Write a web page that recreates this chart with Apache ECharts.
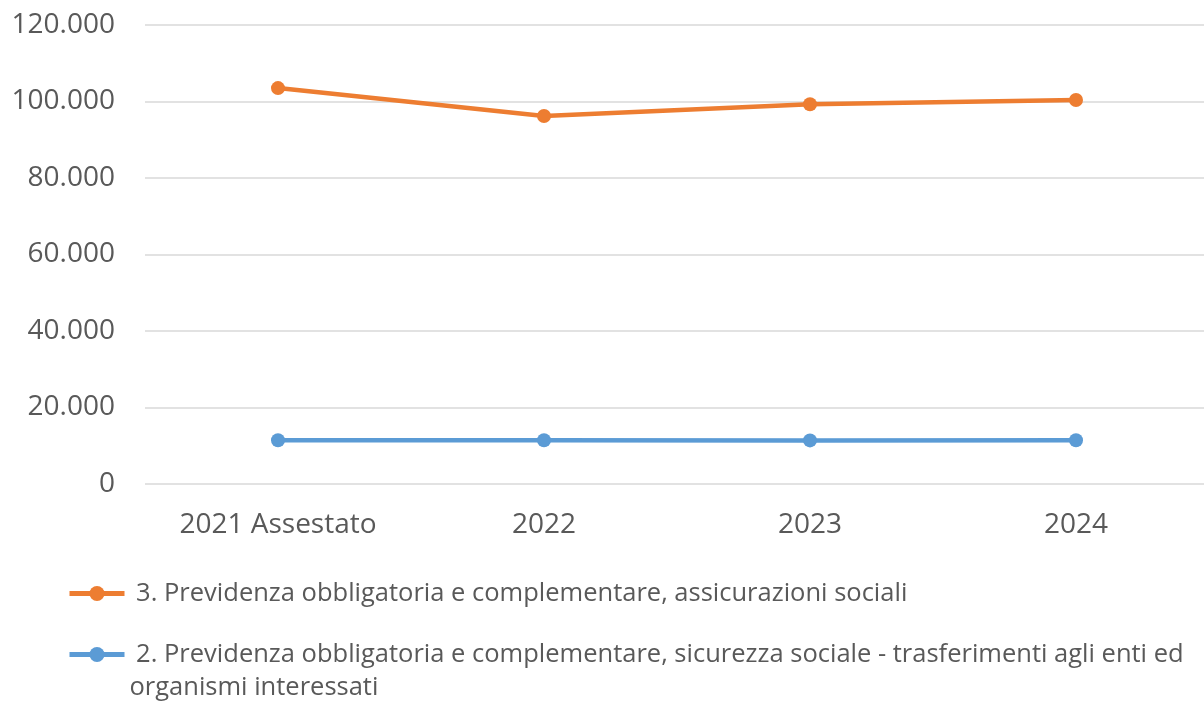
<!DOCTYPE html>
<html>
<head>
<meta charset="utf-8">
<script src="https://cdn.jsdelivr.net/npm/echarts@6/dist/echarts.min.js"></script>
<style>
  html, body { margin: 0; padding: 0; background: #fff; }
  #chart { width: 1204px; height: 701px; }
</style>
</head>
<body>
<div id="chart"></div>
<script>
const categories = ['2021 Assestato', '2022', '2023', '2024']
const seriesNames = [
  '3. Previdenza obbligatoria e complementare, assicurazioni sociali',
  '2. Previdenza obbligatoria e complementare, sicurezza sociale - trasferimenti agli enti ed organismi interessati'
]
const assicurazioniSociali = [103500, 96200, 99300, 100400]
const trasferimentiEnti = [11450, 11450, 11400, 11450]
const yTicks = [0, 20000, 40000, 60000, 80000, 100000, 120000]

const chart = echarts.init(document.getElementById('chart'))
const textColor = '#595959'
const font = 'Open Sans'

function thousands(v) {
  return String(v).replace(/\B(?=(\d{3})+(?!\d))/g, '.')
}

// shared legend look, one legend per series so each can sit where the reference has it
function legendFor(name, top, formatter) {
  return {
    data: [name],
    left: 67,
    top: top,
    padding: 0,
    orient: 'vertical',
    itemWidth: 55,
    itemHeight: 19,
    lineStyle: { width: 5 },
    formatter: formatter,
    textStyle: { fontFamily: font, fontSize: 25.5, color: textColor, lineHeight: 33 }
  }
}

const option = {
  animation: false,
  // plot runs a few px past the right edge, like the reference
  grid: { left: 145, width: 1064, top: 25, bottom: 217, outerBoundsMode: 'none' },
  legend: [
    legendFor(seriesNames[0], 577, name => ' ' + name),
    // leading empty line keeps the icon level with the first text line
    legendFor(seriesNames[1], 605, name => '\n ' + name.replace(' ed organismi', ' ed\norganismi'))
  ],
  xAxis: {
    type: 'category',
    data: categories,
    boundaryGap: true,
    axisLine: { show: false },
    axisTick: { show: false },
    axisLabel: { fontFamily: font, fontSize: 28, color: textColor, margin: 27 }
  },
  yAxis: {
    type: 'value',
    min: yTicks[0],
    max: yTicks[yTicks.length - 1],
    interval: yTicks[1] - yTicks[0],
    axisLine: { show: false },
    axisTick: { show: false },
    splitLine: { lineStyle: { color: '#d9d9d9', width: 1.5 } },
    axisLabel: { fontFamily: font, fontSize: 28, color: textColor, margin: 30, formatter: thousands }
  },
  series: [
    {
      name: seriesNames[0],
      type: 'line',
      data: assicurazioniSociali,
      symbol: 'circle',
      symbolSize: 14,
      itemStyle: { color: '#ED7D31' },
      lineStyle: { color: '#ED7D31', width: 4.5 }
    },
    {
      name: seriesNames[1],
      type: 'line',
      data: trasferimentiEnti,
      symbol: 'circle',
      symbolSize: 14,
      itemStyle: { color: '#5B9BD5' },
      lineStyle: { color: '#5B9BD5', width: 4.5 }
    }
  ]
}

chart.setOption(option)
</script>
</body>
</html>
